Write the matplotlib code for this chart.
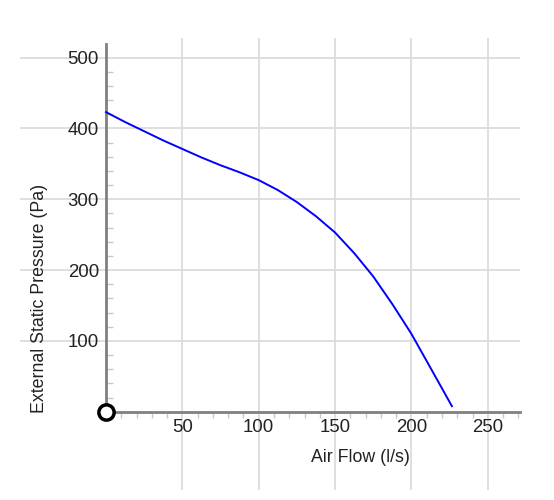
import numpy as np
import matplotlib.pyplot as plt

# fan curve
air_flow = [0, 12.5, 25, 37.5, 50, 62.5, 75, 87.5, 100, 112.5, 125, 137.5,
            150, 162.5, 175, 187.5, 200, 212.5, 226.5]
pressure = [423, 409, 396, 383, 371, 359, 348, 338, 327, 313, 296, 276,
            253, 224, 191, 152, 110, 62, 8]

x_ticks = [50, 100, 150, 200, 250]
y_ticks = [100, 200, 300, 400, 500]

plt.rcParams['font.family'] = ['Liberation Sans', 'DejaVu Sans']

fig = plt.figure(figsize=(5.54, 5.0), dpi=100)
ax = fig.add_axes([20 / 554, 10 / 500, 500 / 554, 452 / 500])
ax.set_xlim(-56.3, 271.1)
ax.set_ylim(-110.4, 527.6)

# axis lines through the origin
for side in ['top', 'right']:
    ax.spines[side].set_visible(False)
ax.spines['left'].set_position(('data', 0))
ax.spines['bottom'].set_position(('data', 0))
ax.spines['left'].set_bounds(0, 519)
ax.spines['bottom'].set_bounds(0, 271)
for side in ['left', 'bottom']:
    ax.spines[side].set_color('#808080')
    ax.spines[side].set_linewidth(2)
    ax.spines[side].set_zorder(3)

ax.set_xticks(x_ticks)
ax.set_yticks(y_ticks)
ax.set_xticks(np.arange(10, 271, 10), minor=True)
ax.set_yticks(np.arange(20, 520, 20), minor=True)
ax.tick_params(axis='both', which='major', length=0, labelsize=13.4, labelcolor='#222222')
ax.tick_params(axis='x', which='major', pad=5)
ax.tick_params(axis='y', which='major', pad=5)
ax.tick_params(axis='x', which='minor', direction='out', length=4, color='#c8c8c8', width=1)
ax.tick_params(axis='y', which='minor', direction='in', length=5, color='#c8c8c8', width=1)

ax.grid(True, which='major', color='#dcdcdc', linewidth=1.3)
ax.set_axisbelow(True)

ax.plot(air_flow, pressure, color='#0000ff', linewidth=1.4, zorder=4)
ax.plot([0], [0], marker='o', markersize=11, markerfacecolor='white',
        markeredgecolor='black', markeredgewidth=2.5, clip_on=False, zorder=5)

fig.text(360 / 554, 1 - 457 / 500, 'Air Flow (l/s)', ha='center', va='center',
         fontsize=12.8, color='#222222')
fig.text(40 / 554, 1 - 298 / 500, 'External Static Pressure (Pa)', ha='center',
         va='center', rotation=90, fontsize=12.8, color='#222222')

fig.savefig('out.png', dpi=100)
